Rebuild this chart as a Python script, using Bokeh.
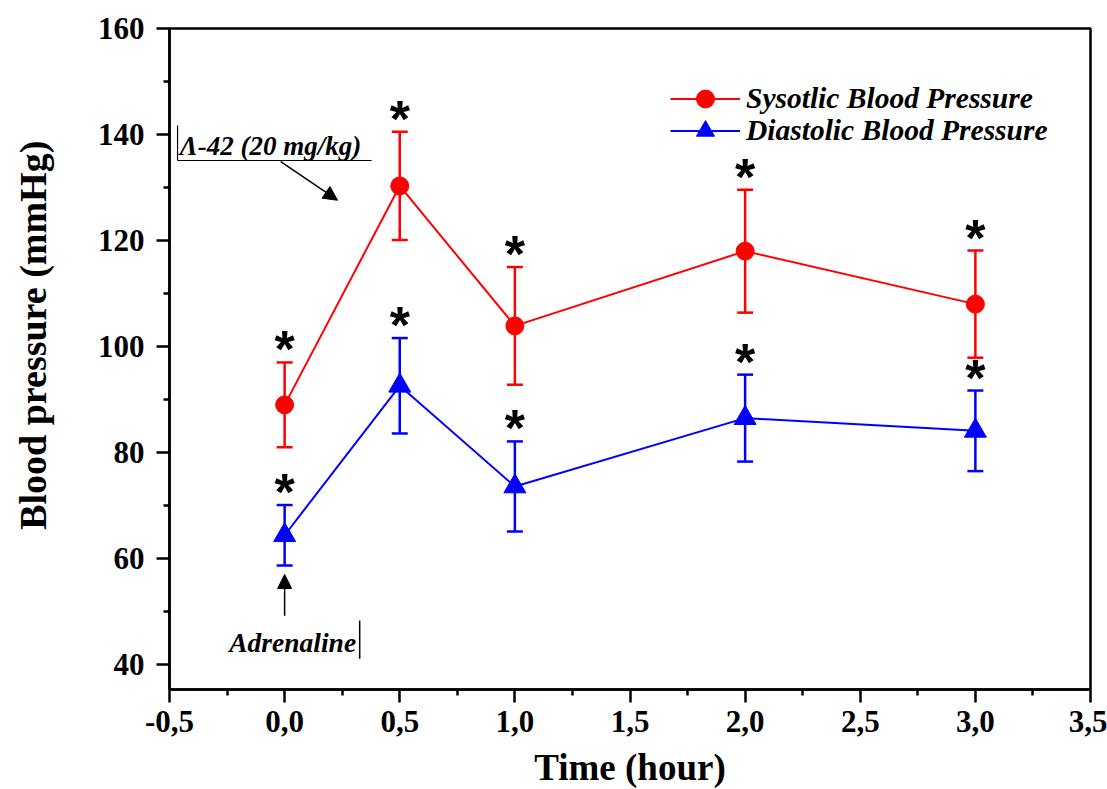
from bokeh.plotting import figure
from bokeh.models import (ColumnDataSource, Whisker, TeeHead, FixedTicker, Range1d,
                          Legend, LegendItem, Arrow, NormalHead, Label)
from bokeh.core.properties import value
from bokeh.embed import file_html
from bokeh.resources import INLINE

# ---- data ----
time_h = [0.0, 0.5, 1.0, 2.0, 3.0]
sys_mean = [89.0, 130.3, 103.9, 118.0, 108.0]
sys_err = [8.0, 10.2, 11.1, 11.6, 10.1]
dia_mean = [64.4, 92.6, 73.6, 86.5, 84.1]
dia_err = [5.7, 9.0, 8.5, 8.2, 7.6]
x_ticks = [-0.5, 0.0, 0.5, 1.0, 1.5, 2.0, 2.5, 3.0, 3.5]
x_tick_labels = ["-0,5", "0,0", "0,5", "1,0", "1,5", "2,0", "2,5", "3,0", "3,5"]
y_ticks = [40, 60, 80, 100, 120, 140, 160]
series_names = ["Sysotlic Blood Pressure", "Diastolic Blood Pressure"]
drug_label = "Λ-42 (20 mg/kg)"
adren_label = "Adrenaline"

SERIF = "Liberation Serif"

src_s = ColumnDataSource(dict(x=time_h, y=sys_mean,
                              lo=[m - e for m, e in zip(sys_mean, sys_err)],
                              hi=[m + e for m, e in zip(sys_mean, sys_err)]))
src_d = ColumnDataSource(dict(x=time_h, y=dia_mean,
                              lo=[m - e for m, e in zip(dia_mean, dia_err)],
                              hi=[m + e for m, e in zip(dia_mean, dia_err)]))

p = figure(width=1107, height=789, output_backend="svg", toolbar_location=None,
           x_range=Range1d(-0.5, 3.5), y_range=Range1d(35.3, 160),
           min_border_left=169, min_border_right=17, min_border_top=28, min_border_bottom=100)
p.frame_width = 921
p.frame_height = 661
p.grid.visible = False
p.outline_line_color = "black"
p.outline_line_width = 2.5
p.background_fill_color = "white"

# axes
p.xaxis.ticker = FixedTicker(ticks=x_ticks, minor_ticks=[-0.25 + 0.5 * i for i in range(8)])
p.xaxis.major_label_overrides = {t: l for t, l in zip(x_ticks, x_tick_labels)}
p.yaxis.ticker = FixedTicker(ticks=y_ticks, minor_ticks=[50, 70, 90, 110, 130, 150])
for ax in (p.xaxis[0], p.yaxis[0]):
    ax.axis_line_width = 2.5
    ax.axis_line_color = "black"
    ax.major_tick_line_width = 2.5
    ax.minor_tick_line_width = 2.5
    ax.minor_tick_line_color = "black"
    ax.major_tick_out = 13
    ax.major_tick_in = 0
    ax.minor_tick_out = 6
    ax.minor_tick_in = 0
    ax.major_label_text_font = SERIF
    ax.major_label_text_font_style = "bold"
    ax.major_label_text_font_size = "31px"
    ax.major_label_text_color = "black"
    ax.axis_label_text_font = SERIF
    ax.axis_label_text_font_style = "bold"
    ax.axis_label_text_color = "black"
p.xaxis.axis_label = "Time (hour)"
p.yaxis.axis_label = "\u00a0" * 5 + "Blood pressure (mmHg)"
p.xaxis.axis_label_text_font_size = "37px"
p.yaxis.axis_label_text_font_size = "38px"
p.xaxis.major_label_standoff = 8
p.yaxis.major_label_standoff = 12
p.xaxis.axis_label_standoff = 12
p.yaxis.axis_label_standoff = 41

# error bars
for src, col in ((src_s, "red"), (src_d, "blue")):
    w = Whisker(base="x", upper="hi", lower="lo", source=src, line_color=col, line_width=2.5,
                upper_head=TeeHead(size=16, line_color=col, line_width=2.5),
                lower_head=TeeHead(size=16, line_color=col, line_width=2.5))
    p.add_layout(w)

l_s = p.line("x", "y", source=src_s, line_color="red", line_width=2)
m_s = p.scatter("x", "y", source=src_s, marker="circle", size=18, fill_color="red", line_color="red")
l_d = p.line("x", "y", source=src_d, line_color="blue", line_width=2)
m_d = p.scatter("x", "y", source=src_d, marker="triangle", size=22, fill_color="blue", line_color="blue")

# asterisks
for src in (src_s, src_d):
    p.text(x="x", y="hi", text=value("*"), source=src, text_font=value("Liberation Sans"),
           text_font_style="bold", text_font_size="52px", text_align="center",
           text_baseline="alphabetic", y_offset=-13, text_color="black")

# legend (one legend per entry for tight vertical spacing with large markers)
for name, rends, loc in ((series_names[0], [l_s, m_s], (501, 568)),
                         (series_names[1], [l_d, m_d], (501, 536))):
    legend = Legend(items=[LegendItem(label=name, renderers=rends)], location=loc)
    legend.label_text_font = SERIF
    legend.label_text_font_style = "bold italic"
    legend.label_text_font_size = "29.5px"
    legend.label_text_color = "black"
    legend.glyph_width = 70
    legend.glyph_height = 45
    legend.label_height = 45
    legend.padding = 0
    legend.margin = 0
    legend.label_standoff = 6
    legend.border_line_color = None
    legend.background_fill_alpha = 0
    p.add_layout(legend)

# annotations: drug
p.add_layout(Label(x=-0.455, y=137.9, text=drug_label, text_font=SERIF, text_font_style="bold italic",
                   text_font_size="27px", text_baseline="middle", text_color="black"))
p.segment(x0=[-0.465, -0.465], y0=[135.1, 135.1], x1=[-0.465, 0.378], y1=[141.7, 135.1],
          line_color="black", line_width=1.2)
p.add_layout(Arrow(x_start=-0.017, y_start=134.9, x_end=0.23, y_end=127.6, line_width=1.5,
                   end=NormalHead(size=14, fill_color="black", line_color="black")))

# annotations: adrenaline
p.add_layout(Arrow(x_start=0.0, y_start=49.2, x_end=0.0, y_end=57.0, line_width=1.5,
                   end=NormalHead(size=14, fill_color="black", line_color="black")))
p.add_layout(Label(x=0.035, y=44.2, text=adren_label, text_font=SERIF, text_font_style="bold italic",
                   text_font_size="27.5px", text_align="center", text_baseline="middle", text_color="black"))
p.segment(x0=[0.326], y0=[41.1], x1=[0.326], y1=[48.3], line_color="black", line_width=1.5)

open("out.html", "w").write(file_html(p, INLINE))
